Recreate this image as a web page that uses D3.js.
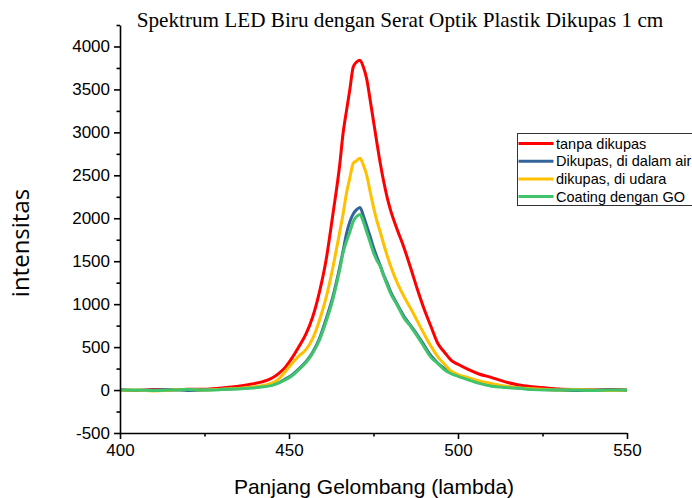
<!DOCTYPE html>
<html>
<head>
<meta charset="utf-8">
<script src="https://cdn.jsdelivr.net/npm/d3@7"></script>
<style>
  html, body { margin: 0; padding: 0; background: #fff; }
  svg { display: block; }
</style>
</head>
<body>
<svg id="chart" width="692" height="498"></svg>
<script>
// Wavelength samples (nm)
const wavelength = [400, 405, 410, 415, 420, 425, 430, 433, 436, 439, 442, 445, 447, 449, 451, 453, 455, 457, 459, 461, 463, 465, 466, 467, 468, 469, 470, 471, 472, 473, 474, 475, 476, 477, 478, 479, 480, 482, 484, 486, 488, 490, 492, 494, 496, 498, 500, 503, 506, 510, 514, 518, 522, 526, 530, 535, 540, 545, 550];

// Intensity per series
const tanpaDikupas = [0, -5, 5, 0, 10, 10, 25, 35, 50, 70, 95, 140, 195, 270, 380, 510, 650, 850, 1140, 1520, 2050, 2620, 2990, 3250, 3500, 3760, 3820, 3840, 3760, 3620, 3380, 3130, 2880, 2640, 2430, 2250, 2100, 1870, 1660, 1420, 1170, 940, 740, 545, 440, 345, 300, 240, 190, 145, 95, 60, 40, 25, 12, 5, 0, 5, 0];
const dalamAir = [0, -5, 0, 5, -5, 0, 10, 15, 20, 30, 40, 60, 85, 130, 180, 250, 330, 440, 600, 830, 1090, 1430, 1620, 1820, 1960, 2050, 2100, 2125, 2030, 1910, 1790, 1660, 1550, 1450, 1340, 1250, 1150, 1000, 860, 750, 640, 520, 400, 315, 250, 200, 170, 130, 95, 60, 40, 25, 10, 5, 0, -5, 0, 0, -5];
const diUdara = [-5, 0, -10, 0, 5, 0, 10, 15, 22, 35, 50, 80, 130, 220, 315, 400, 470, 600, 810, 1080, 1430, 1840, 2050, 2290, 2470, 2640, 2670, 2700, 2620, 2500, 2310, 2130, 1970, 1840, 1700, 1570, 1450, 1250, 1090, 950, 800, 650, 510, 390, 300, 220, 180, 145, 110, 75, 45, 25, 15, 5, 0, 5, 0, -5, 0];
const coatingGO = [0, 0, -5, 0, 5, 0, 5, 10, 15, 25, 35, 55, 85, 120, 170, 240, 320, 430, 580, 800, 1060, 1400, 1600, 1730, 1840, 1960, 2020, 2044, 1960, 1840, 1720, 1600, 1510, 1440, 1330, 1230, 1130, 990, 840, 740, 625, 500, 380, 310, 235, 190, 160, 120, 80, 45, 30, 20, 5, 0, 0, 0, -5, 0, 0];

const seriesNames = ["tanpa dikupas", "Dikupas, di dalam air", "dikupas, di udara", "Coating dengan GO"];
const seriesColors = ["#ff0000", "#35649a", "#ffc000", "#3fc46c"];
const seriesValues = [tanpaDikupas, dalamAir, diUdara, coatingGO];

const xTicks = [400, 450, 500, 550];
const xMinorTicks = [425, 475, 525];
const yTicks = [-500, 0, 500, 1000, 1500, 2000, 2500, 3000, 3500, 4000];
const yMinorTicks = [-250, 250, 750, 1250, 1750, 2250, 2750, 3250, 3750, 4250];

const titleText = "Spektrum LED Biru dengan Serat Optik Plastik Dikupas 1 cm";
const xLabel = "Panjang Gelombang (lambda)";
const yLabel = "intensitas";

const svg = d3.select("#chart");

const x = d3.scaleLinear().domain([400, 550]).range([120, 627]);
const y = d3.scaleLinear().domain([-500, 4250]).range([433, 25]);

// Title
svg.append("text")
  .attr("x", 400).attr("y", 27)
  .attr("text-anchor", "middle")
  .attr("font-family", "'Liberation Serif', 'Times New Roman', serif")
  .attr("font-size", 21.2)
  .attr("fill", "#000")
  .text(titleText);

// Series lines
const line = d3.line()
  .x((d, i) => x(wavelength[i]))
  .y(d => y(d))
  .curve(d3.curveMonotoneX);

seriesValues.forEach((vals, k) => {
  svg.append("path")
    .datum(vals)
    .attr("fill", "none")
    .attr("stroke", seriesColors[k])
    .attr("stroke-width", 3)
    .attr("stroke-linejoin", "round")
    .attr("d", line);
});

// Axes
const axisFont = "'Liberation Sans', Arial, sans-serif";
const plainInt = d => String(d);  // plain hyphen for negatives

svg.append("g")
  .attr("transform", `translate(${x(400)},0)`)
  .call(d3.axisLeft(y).tickValues(yTicks).tickSize(6).tickPadding(4).tickSizeOuter(0).tickFormat(plainInt));
svg.append("g")
  .attr("transform", `translate(${x(400)},0)`)
  .call(d3.axisLeft(y).tickValues(yMinorTicks).tickSize(3.5).tickSizeOuter(0).tickFormat(""))
  .call(g => g.select(".domain").remove());

svg.append("g")
  .attr("transform", `translate(0,${y(-500)})`)
  .call(d3.axisBottom(x).tickValues(xTicks).tickSize(6).tickPadding(5).tickSizeOuter(0).tickFormat(plainInt));
svg.append("g")
  .attr("transform", `translate(0,${y(-500)})`)
  .call(d3.axisBottom(x).tickValues(xMinorTicks).tickSize(3.5).tickSizeOuter(0).tickFormat(""))
  .call(g => g.select(".domain").remove());

svg.selectAll(".domain").attr("stroke", "#000").attr("stroke-width", 1.6);
svg.selectAll(".tick line").attr("stroke", "#000").attr("stroke-width", 1.6);
svg.selectAll(".tick text")
  .attr("font-family", axisFont)
  .attr("font-size", 17)
  .attr("fill", "#000");

// Axis titles
svg.append("text")
  .attr("x", 374).attr("y", 494)
  .attr("text-anchor", "middle")
  .attr("font-family", axisFont)
  .attr("font-size", 21)
  .attr("fill", "#000")
  .text(xLabel);

svg.append("text")
  .attr("transform", "translate(29,243) rotate(-90)")
  .attr("text-anchor", "middle")
  .attr("font-family", "'Open Sans', sans-serif")
  .attr("font-size", 24)
  .attr("fill", "#000")
  .text(yLabel);

// Legend
const legend = svg.append("g").attr("transform", "translate(517.5,133.5)");
legend.append("rect")
  .attr("width", 190).attr("height", 72)
  .attr("fill", "#fff")
  .attr("stroke", "#333").attr("stroke-width", 1);
seriesNames.forEach((name, k) => {
  const ry = 10 + k * 17.7;
  legend.append("line")
    .attr("x1", 1).attr("x2", 36)
    .attr("y1", ry).attr("y2", ry)
    .attr("stroke", seriesColors[k]).attr("stroke-width", 3);
  legend.append("text")
    .attr("x", 38.5).attr("y", ry + 5)
    .attr("font-family", axisFont)
    .attr("font-size", 14.5)
    .attr("fill", "#000")
    .text(name);
});
</script>
</body>
</html>
